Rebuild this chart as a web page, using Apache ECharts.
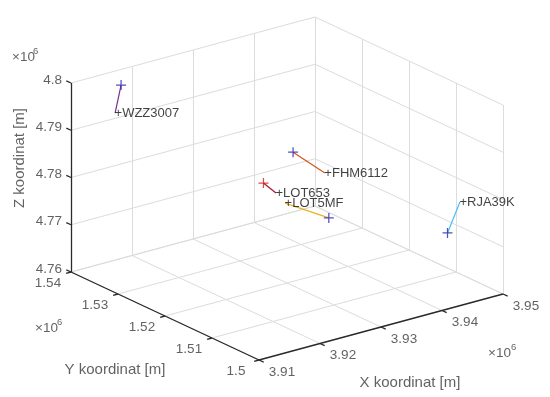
<!DOCTYPE html>
<html><head><meta charset="utf-8">
<script src="https://cdn.jsdelivr.net/npm/echarts@6/dist/echarts.min.js"></script>
<style>html,body{margin:0;padding:0;background:#fff}#c{width:550px;height:397px}</style>
</head><body><div id="c"></div><script>
// ---- data (metres) ----
const xTicks = [3910000, 3920000, 3930000, 3940000, 3950000];
const yTicks = [1500000, 1510000, 1520000, 1530000, 1540000];
const zTicks = [4760000, 4770000, 4780000, 4790000, 4800000];
const xTickLabels = ['3.91', '3.92', '3.93', '3.94', '3.95'];
const yTickLabels = ['1.5', '1.51', '1.52', '1.53', '1.54'];
const zTickLabels = ['4.76', '4.77', '4.78', '4.79', '4.8'];
const exponentLabel = '×10';
const exponentPower = '6';
const xTitle = 'X koordinat [m]';
const yTitle = 'Y koordinat [m]';
const zTitle = 'Z koordinat [m]';
const flights = ['WZZ3007', 'FHM6112', 'LOT653', 'LOT5MF', 'RJA39K'];
const startX = [3917900, 3938700, 3934000, 3940400, 3947300];
const startY = [1539600, 1530000, 1530200, 1524600, 1508300];
const startZ = [4797000, 4780000, 4775000, 4768000, 4770000];
const endX = [3916300, 3942600, 3935200, 3936000, 3948100];
const endY = [1538800, 1528300, 1529100, 1528200, 1506700];
const endZ = [4792000, 4775000, 4773000, 4771000, 4777000];

// ---- styles ----
const trackColors = ['#7E2F8E', '#D95319', '#A2142F', '#EDB120', '#4DBEEE'];
const startMarkerColors = ['#2424b0', '#2424b0', '#d02020', '#2424b0', '#2424b0'];
const FONT = '"Liberation Sans", Arial, Helvetica, sans-serif';
const TICK_COLOR = '#3a3a3a';

// ---- orthographic 3D view (screen offsets for the full range of each axis) ----
const view = { origin: [259, 360], ex: [244, -66], ey: [-188, -88], ez: [0, -189] };
const xMin = xTicks[0], xMax = xTicks[xTicks.length - 1];
const yMin = yTicks[0], yMax = yTicks[yTicks.length - 1];
const zMin = zTicks[0], zMax = zTicks[zTicks.length - 1];
function P(x, y, z) {
  const u = (x - xMin) / (xMax - xMin), v = (y - yMin) / (yMax - yMin), w = (z - zMin) / (zMax - zMin);
  return [view.origin[0] + u * view.ex[0] + v * view.ey[0] + w * view.ez[0],
          view.origin[1] + u * view.ex[1] + v * view.ey[1] + w * view.ez[1]];
}

// grid lines on back planes
const gridSegs = [];
xTicks.forEach(x => gridSegs.push([P(x, yMin, zMin), P(x, yMax, zMin)]));
yTicks.forEach(y => gridSegs.push([P(xMin, y, zMin), P(xMax, y, zMin)]));
xTicks.forEach(x => gridSegs.push([P(x, yMax, zMin), P(x, yMax, zMax)]));
zTicks.forEach(z => gridSegs.push([P(xMin, yMax, z), P(xMax, yMax, z)]));
yTicks.forEach(y => gridSegs.push([P(xMax, y, zMin), P(xMax, y, zMax)]));
zTicks.forEach(z => gridSegs.push([P(xMax, yMin, z), P(xMax, yMax, z)]));

// axis lines and tick marks
const xr = xMax - xMin, yr = yMax - yMin;
const axisSegs = [
  [P(xMin, yMax, zMin), P(xMin, yMax, zMax)],
  [P(xMin, yMin, zMin), P(xMin, yMax, zMin)],
  [P(xMin, yMin, zMin), P(xMax, yMin, zMin)]
];
zTicks.forEach(z => axisSegs.push([P(xMin, yMax, z), P(xMin, yMax + 0.025 * yr, z)]));
yTicks.forEach(y => axisSegs.push([P(xMin, y, zMin), P(xMin - 0.02 * xr, y, zMin)]));
xTicks.forEach(x => axisSegs.push([P(x, yMin, zMin), P(x, yMin - 0.025 * yr, zMin)]));

function textSeries(points, texts, label, z) {
  return {
    type: 'scatter', symbolSize: 1, silent: true, z: z || 5,
    itemStyle: { color: 'transparent' },
    data: points.map((p, i) => ({ value: p, name: texts[i] })),
    label: Object.assign({ show: true, position: 'inside', formatter: '{b}', fontFamily: FONT,
      fontSize: 13.5, color: TICK_COLOR }, label)
  };
}

const series = [];
series.push({ type: 'lines', coordinateSystem: 'cartesian2d', silent: true, z: 1,
  lineStyle: { color: '#dcdcdc', width: 1, opacity: 1 },
  data: gridSegs.map(s => ({ coords: s })) });
series.push({ type: 'lines', coordinateSystem: 'cartesian2d', silent: true, z: 2,
  lineStyle: { color: '#2a2a2a', width: 1.3, opacity: 1 },
  data: axisSegs.map(s => ({ coords: s })) });

flights.forEach((f, i) => {
  series.push({ type: 'line', name: f, silent: true, z: 3, showSymbol: false, symbol: 'none',
    lineStyle: { color: trackColors[i], width: 1.2 },
    data: [P(startX[i], startY[i], startZ[i]), P(endX[i], endY[i], endZ[i])] });
});

const plusPath = 'path://M3.5,0H4.5V3.5H8V4.5H4.5V8H3.5V4.5H0V3.5H3.5Z';
series.push({ type: 'scatter', silent: true, z: 4, symbol: plusPath, symbolSize: 10,
  data: flights.map((f, i) => ({ value: P(startX[i], startY[i], startZ[i]),
    itemStyle: { color: startMarkerColors[i] } })) });

// flight labels at end points
series.push(textSeries(flights.map((f, i) => P(endX[i], endY[i], endZ[i])),
  flights.map(f => '+' + f), { position: 'right', distance: -1, align: 'left', verticalAlign: 'middle',
    color: '#111', fontSize: 13 }, 6));

// tick labels
series.push(textSeries(zTicks.map(z => P(xMin, yMax, z)), zTickLabels,
  { align: 'right', verticalAlign: 'middle', offset: [-9, -3] }));
series.push(textSeries(yTicks.map(y => P(xMin, y, zMin)), yTickLabels,
  { align: 'center', verticalAlign: 'middle', offset: [-23, 11] }));
series.push(textSeries(xTicks.map(x => P(x, yMin, zMin)), xTickLabels,
  { align: 'center', verticalAlign: 'middle', offset: [23, 12] }));

// exponent labels
series.push(textSeries([P(xMin, yMax, zMax)], [exponentLabel], { align: 'left', verticalAlign: 'middle', offset: [-59, -26] }));
series.push(textSeries([P(xMin, yMax, zMax)], [exponentPower], { align: 'left', verticalAlign: 'middle', offset: [-38, -32], fontSize: 9.5 }));
series.push(textSeries([P(xMin, yMax, zMin)], [exponentLabel], { align: 'left', verticalAlign: 'middle', offset: [-36, 56] }));
series.push(textSeries([P(xMin, yMax, zMin)], [exponentPower], { align: 'left', verticalAlign: 'middle', offset: [-14, 50], fontSize: 9.5 }));
series.push(textSeries([P(xMax, yMin, zMin)], [exponentLabel], { align: 'left', verticalAlign: 'middle', offset: [-15, 59] }));
series.push(textSeries([P(xMax, yMin, zMin)], [exponentPower], { align: 'left', verticalAlign: 'middle', offset: [8, 53], fontSize: 9.5 }));

// axis titles (offset of a rotated label is given in its rotated frame)
series.push(textSeries([P(xMin, yMax, zMax)], [zTitle], { align: 'center', verticalAlign: 'middle', offset: [-75, -51], rotate: 90, fontSize: 15 }));
series.push(textSeries([P(xMin, (yMin + yMax) / 2, zMin)], [yTitle], { align: 'center', verticalAlign: 'middle', offset: [-50, 54], fontSize: 15 }));
series.push(textSeries([P((xMin + xMax) / 2, yMin, zMin)], [xTitle], { align: 'center', verticalAlign: 'middle', offset: [29, 56], fontSize: 15 }));

const chart = echarts.init(document.getElementById('c'), null, { renderer: 'canvas' });
chart.setOption({
  animation: false,
  backgroundColor: '#ffffff',
  grid: { left: 0, right: 0, top: 0, bottom: 0 },
  xAxis: { type: 'value', min: 0, max: 550, show: false },
  yAxis: { type: 'value', min: 0, max: 397, inverse: true, show: false },
  series: series
});
</script></body></html>
